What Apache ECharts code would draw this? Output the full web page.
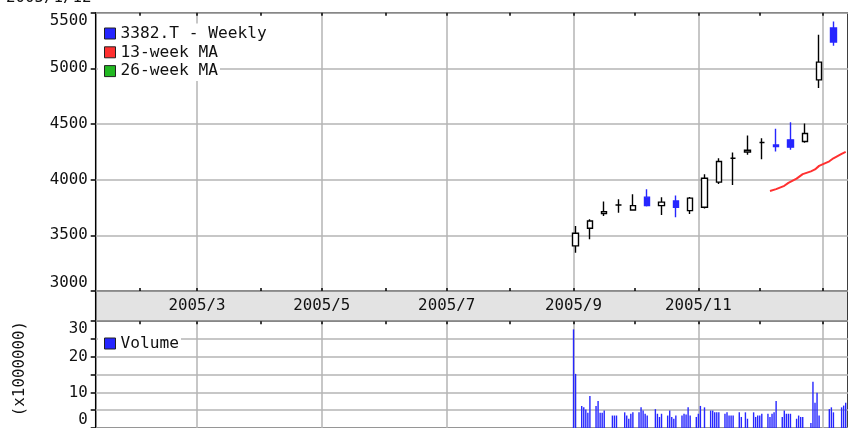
<!DOCTYPE html>
<html><head><meta charset="utf-8">
<script src="https://cdn.jsdelivr.net/npm/echarts@6/dist/echarts.min.js"></script>
<style>html,body{margin:0;padding:0;background:#fff}#c{width:848px;height:428px}</style>
</head><body><div id="c"></div>
<script>
// ---- data ----
const candleDates = ['2005-09-02','2005-09-09','2005-09-16','2005-09-23','2005-09-30','2005-10-07','2005-10-14','2005-10-21','2005-10-28','2005-11-04','2005-11-11','2005-11-18','2005-11-25','2005-12-02','2005-12-09','2005-12-16','2005-12-23','2005-12-30','2006-01-06'];
const opens  = [3405,3564,3695,3773,3728,3843,3767,3809,3722,3753,3978,4193,4248,4334,4312,4358,4343,4897,5362];
const closes = [3519,3629,3712,3773,3767,3767,3798,3753,3834,4013,4163,4193,4264,4334,4298,4292,4415,5056,5236];
const lows   = [3344,3465,3674,3704,3722,3760,3683,3663,3692,3740,3962,3953,4223,4184,4253,4268,4331,4823,5203];
const highs  = [3584,3645,3803,3825,3870,3915,3843,3857,3845,4049,4193,4244,4397,4373,4457,4517,4505,5302,5422];

const maDates = ['2005-12-06','2005-12-09','2005-12-13','2005-12-15','2005-12-19','2005-12-22','2005-12-26','2005-12-28','2005-12-30','2006-01-04','2006-01-06','2006-01-10','2006-01-12'];
const ma13 = [3899,3915,3945,3971,4010,4050,4075,4092,4124,4165,4192,4232,4250];
const ma26 = [];

const volDates = [
 '2005-09-01','2005-09-02','2005-09-05','2005-09-06','2005-09-07','2005-09-08','2005-09-09','2005-09-12','2005-09-13','2005-09-14','2005-09-15','2005-09-16','2005-09-20','2005-09-21','2005-09-22','2005-09-26','2005-09-27','2005-09-28','2005-09-29','2005-09-30',
 '2005-10-03','2005-10-04','2005-10-05','2005-10-06','2005-10-07','2005-10-11','2005-10-12','2005-10-13','2005-10-14','2005-10-17','2005-10-18','2005-10-19','2005-10-20','2005-10-21','2005-10-24','2005-10-25','2005-10-26','2005-10-27','2005-10-28','2005-10-31',
 '2005-11-01','2005-11-02','2005-11-04','2005-11-07','2005-11-08','2005-11-09','2005-11-10','2005-11-11','2005-11-14','2005-11-15','2005-11-16','2005-11-17','2005-11-18','2005-11-21','2005-11-22','2005-11-24','2005-11-25','2005-11-28','2005-11-29','2005-11-30',
 '2005-12-01','2005-12-02','2005-12-05','2005-12-06','2005-12-07','2005-12-08','2005-12-09','2005-12-12','2005-12-13','2005-12-14','2005-12-15','2005-12-16','2005-12-19','2005-12-20','2005-12-21','2005-12-22','2005-12-26','2005-12-27','2005-12-28','2005-12-29','2005-12-30',
 '2006-01-04','2006-01-05','2006-01-06','2006-01-10','2006-01-11','2006-01-12'];
const volumes = [
 27.7,15.2,6.2,5.8,5.2,4.3,9.0,6.2,7.6,4.3,4.3,4.9,3.5,3.5,3.5,4.4,3.5,2.6,4.0,4.4,
 4.4,5.8,4.9,4.0,3.5,5.3,4.0,3.1,4.0,3.5,4.9,3.1,2.6,3.5,3.5,4.0,3.8,5.8,3.5,3.1,
 4.0,6.2,5.8,4.9,4.9,4.4,4.4,4.4,4.0,4.4,3.5,3.5,3.5,4.4,3.1,4.4,2.6,4.4,3.1,3.5,
 3.5,4.0,4.0,3.1,4.0,4.4,7.6,3.1,4.9,4.0,4.0,4.0,2.6,3.5,3.1,3.1,1.4,13.0,7.1,9.9,3.5,
 5.3,5.8,4.4,5.8,6.3,7.1];

const monthTicks = ['2005-02-01','2005-03-01','2005-04-01','2005-05-01','2005-06-01','2005-07-01','2005-08-01','2005-09-01','2005-10-01','2005-11-01','2005-12-01','2006-01-01'];
const gridMonths = ['2005-03-01','2005-05-01','2005-07-01','2005-09-01','2005-11-01','2006-01-01'];
const labelMonths = ['2005/3','2005/5','2005/7','2005/9','2005/11'];
const priceTicks = [3000,3500,4000,4500,5000,5500];
const volTicks = [0,10,20,30];
const legendNames = ['3382.T - Weekly','13-week MA','26-week MA'];

// ---- helpers ----
function ts(s){const p=s.split(/[-\/]/).map(Number);return new Date(p[0],p[1]-1,p[2]||1).getTime();}
const xMin = new Date(2005,0,10,12).getTime();
const xMax = new Date(2006,0,13,3).getTime();
const FONT = 'DejaVu Sans Mono';
const FS = 15.8;
const LFS = 16.2;
const TXT = '#111';
const BLUE = '#2626ff', RED = '#ff3030', GREEN = '#22b822';
const GRIDC = '#b4b4b4';
const legendColors = [BLUE, RED, GREEN];

const baseX = (grid, extra) => Object.assign({
  type:'value', gridIndex:grid, min:xMin, max:xMax, scale:true,
  axisLine:{show:false}, axisLabel:{show:false}, axisTick:{show:false}, splitLine:{show:false}
}, extra);
const tickX = (grid, pos) => baseX(grid, {position:pos,
  axisTick:{show:true, inside:true, length:3, customValues:monthTicks.map(ts), lineStyle:{color:'#000', width:1.5}}});
const splitX = (grid) => baseX(grid, {position:'bottom',
  axisTick:{show:false, customValues:gridMonths.map(ts)},
  splitLine:{show:true, lineStyle:{color:GRIDC, width:1.5}}});
const oneLegend = (name, color, top) => ({
  orient:'vertical', left:98, top:top, itemWidth:11, itemHeight:11, icon:'rect',
  padding:[2,2,2,6], backgroundColor:'#fff',
  textStyle:{fontFamily:FONT, fontSize:LFS, color:TXT, lineHeight:16},
  itemStyle:{borderColor:'#222', borderWidth:1},
  data:[{name:name, itemStyle:{color:color}}],
  selectedMode:false
});

const chart = echarts.init(document.getElementById('c'), null, {renderer:'canvas'});
chart.setOption({
  animation:false,
  backgroundColor:'#fff',
  title:{text:'2005/1/12', left:6, top:-10.5, padding:0,
    textStyle:{fontFamily:FONT, fontSize:FS, fontWeight:'normal', color:TXT}},
  legend:[
    oneLegend(legendNames[0], legendColors[0], 23.5),
    oneLegend(legendNames[1], legendColors[1], 42.3),
    oneLegend(legendNames[2], legendColors[2], 61.1),
    oneLegend('Volume', BLUE, 333.5)
  ],
  grid:[
    {left:95.7, top:12.7, right:-3, height:278.3, show:true, backgroundColor:'#fff', borderColor:'#000', borderWidth:1.5},
    {left:95.7, top:291, right:-3, height:30.2, show:true, backgroundColor:'#e3e3e3', borderColor:'#000', borderWidth:1.5},
    {left:95.7, top:321.2, right:-3, height:110.3, show:true, backgroundColor:'#fff', borderColor:'#000', borderWidth:1.5}
  ],
  xAxis:[
    splitX(0),
    tickX(0,'bottom'),
    tickX(0,'top'),
    baseX(1, {position:'top',
      axisLabel:{show:true, inside:true, margin:14.5, verticalAlign:'middle',
        customValues:labelMonths.map(ts),
        formatter:v=>{const d=new Date(v);return d.getFullYear()+'/'+(d.getMonth()+1);},
        fontFamily:FONT, fontSize:FS, color:TXT}}),
    splitX(2),
    tickX(2,'top')
  ],
  yAxis:[
    {type:'value', gridIndex:0, min:3000, max:5500, interval:500,
     axisLine:{show:false},
     axisTick:{show:true, length:5, lineStyle:{color:'#000', width:1.5}},
     axisLabel:{margin:8, fontFamily:FONT, fontSize:FS, color:TXT,
       customValues:priceTicks, formatter:v=>String(v),
       verticalAlignMinLabel:'bottom', verticalAlignMaxLabel:'top'},
     splitLine:{show:true, lineStyle:{color:GRIDC, width:1.5}}},
    {type:'value', gridIndex:1, show:false},
    {type:'value', gridIndex:2, min:0, max:30, interval:5,
     name:'(x1000000)', nameLocation:'middle', nameGap:68, nameRotate:90,
     nameTextStyle:{fontFamily:FONT, fontSize:FS, color:TXT, padding:[0,0,0,12]},
     axisLine:{show:false},
     axisTick:{show:true, length:5, lineStyle:{color:'#000', width:1.5}},
     axisLabel:{margin:8, fontFamily:FONT, fontSize:FS, color:TXT,
       customValues:volTicks, formatter:v=>String(v),
       verticalAlignMinLabel:'bottom', verticalAlignMaxLabel:'top'},
     splitLine:{show:true, lineStyle:{color:GRIDC, width:1.5}}}
  ],
  series:[
    {name:legendNames[0], type:'candlestick', xAxisIndex:0, yAxisIndex:0,
     encode:{x:0, y:[1,2,3,4]}, barWidth:6,
     itemStyle:{color:'#fff', color0:BLUE, borderColor:'#000', borderColor0:BLUE, borderColorDoji:'#000', borderWidth:1.4},
     data:candleDates.map((d,i)=>[ts(d), opens[i], closes[i], lows[i], highs[i]])},
    {name:legendNames[1], type:'line', xAxisIndex:0, yAxisIndex:0, showSymbol:false, symbol:'none',
     lineStyle:{color:RED, width:2}, itemStyle:{color:RED},
     data:maDates.map((d,i)=>[ts(d), ma13[i]])},
    {name:legendNames[2], type:'line', xAxisIndex:0, yAxisIndex:0, showSymbol:false, symbol:'none',
     lineStyle:{color:GREEN, width:2}, itemStyle:{color:GREEN},
     data:ma26},
    {name:'Volume', type:'bar', xAxisIndex:4, yAxisIndex:2, barWidth:1.4,
     itemStyle:{color:BLUE},
     data:volDates.map((d,i)=>[ts(d), volumes[i]])}
  ]
});
</script></body></html>
